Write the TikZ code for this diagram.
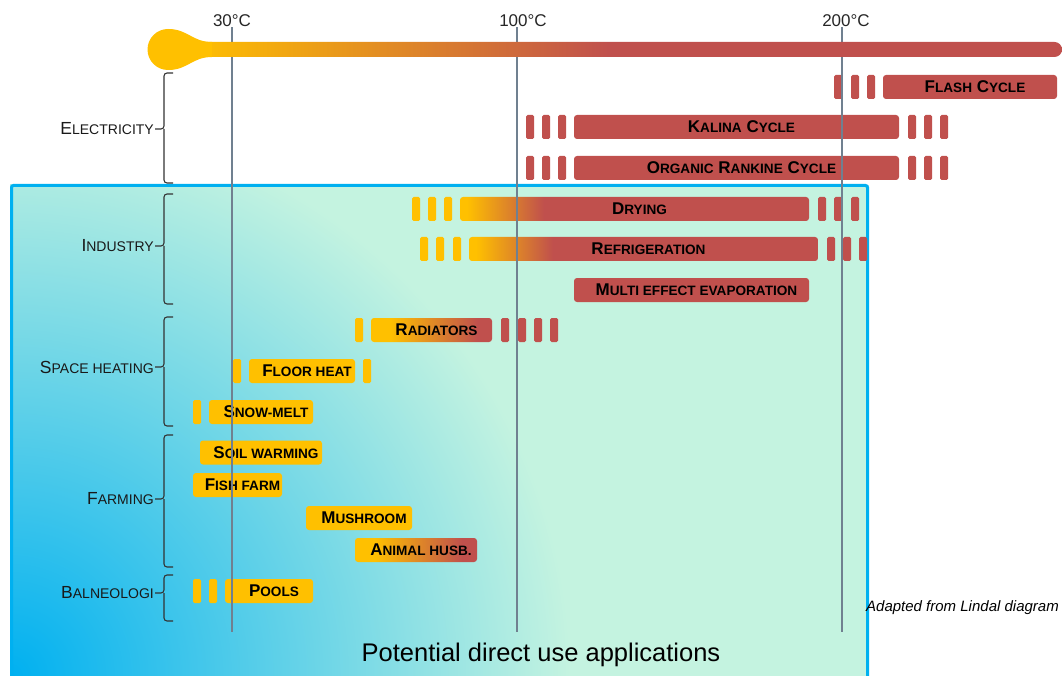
\documentclass[tikz,border=0pt]{standalone}
\usepackage{fontspec}
\setmainfont{Liberation Sans}
\usepackage{xcolor}
\usepackage{tikz}
\definecolor{barred}{HTML}{C0504D}
\definecolor{baryel}{HTML}{FFC000}
\definecolor{boxblue}{HTML}{00B0F0}
\definecolor{boxmint}{HTML}{C4F3E0}
\definecolor{linegray}{HTML}{708090}
\pgfdeclarehorizontalshading{heatup}{100bp}{color(0bp)=(baryel); color(26bp)=(baryel); color(37bp)=(barred); color(100bp)=(barred)}
\pgfdeclarehorizontalshading{slowheat}{100bp}{color(0bp)=(baryel); color(33bp)=(baryel); color(69bp)=(barred); color(100bp)=(barred)}
\pgfdeclarehorizontalshading{thermo}{100bp}{color(0bp)=(baryel); color(25bp)=(baryel); color(49bp)=(barred); color(100bp)=(barred)}
\makeatletter
% smaller capitals for the fake small caps
\newcommand{\lowc}[1]{{\@tempdima=\f@size pt\@tempdima=0.8\@tempdima\fontsize{\@tempdima}{\@tempdima}\selectfont #1}}
\makeatother
\tikzset{
    appbar/.style = {rounded corners=3pt, minimum height=24pt, inner sep=0pt,
        text=black, font=\bfseries\fontsize{17}{17}\selectfont,
        execute at begin node=\hspace*{10pt}},
    hot/.style = {appbar, fill=barred},
    warm/.style = {appbar, fill=baryel},
    heating/.style = {appbar, shading=heatup},
    slowheating/.style = {appbar, shading=slowheat},
    stub/.style = {rounded corners=1.5pt, fill=#1},
    group/.style = {anchor=east, inner sep=1pt, text=black!90,
        font=\fontsize{17.5}{17.5}\selectfont},
    grpbrace/.style = {draw=black!80, line width=1.1pt, rounded corners=3pt},
    temp/.style = {inner sep=0pt, text=black!85, font=\fontsize{17}{17}\selectfont},
    templine/.style = {draw=linegray, line width=1.2pt},
}

\begin{document}
\begin{tikzpicture}[x=1pt,y=-1pt]
    \useasboundingbox (0,0) rectangle (1062,676);
    % direct use box
    \begin{scope}
        \clip (10,185) rectangle (869,676);
        \fill[boxmint] (10,185) rectangle (869,676);
        \shade[inner color=boxblue, outer color=boxmint] (10,676) circle (560);
    \end{scope}
    \draw[boxblue, line width=3pt, rounded corners=2pt] (11.5,676) -- (11.5,185.5) -- (867.5,185.5) -- (867.5,676);

    % electricity
    \node (flash) [hot, minimum width=174] at (970,87) {F\lowc{LASH} C\lowc{YCLE}};
    \foreach \x in {834,851,867} \fill[stub=barred] (\x,75) rectangle +(8,24);
    \node (kalina) [hot, minimum width=325] at (736.5,127) {K\lowc{ALINA} C\lowc{YCLE}};
    \node (orc) [hot, minimum width=325] at (736.5,168) {O\lowc{RGANIC} R\lowc{ANKINE} C\lowc{YCLE}};
    \foreach \y in {115,156} {
        \foreach \x in {526,542,558,908,924,940} \fill[stub=barred] (\x,\y) rectangle +(8,24);
    }
    % industry
    \node (drying) [heating, minimum width=349] at (634.5,209) {D\lowc{RYING}};
    \foreach \x in {412,428,444} \fill[stub=baryel] (\x,197) rectangle +(8,24);
    \foreach \x in {818,834,851} \fill[stub=barred] (\x,197) rectangle +(8,24);
    \node (refrig) [heating, minimum width=349] at (643.5,249) {R\lowc{EFRIGERATION}};
    \foreach \x in {420,436,453} \fill[stub=baryel] (\x,237) rectangle +(8,24);
    \foreach \x in {827,843,859} \fill[stub=barred] (\x,237) rectangle +(8,24);
    \node (evap) [hot, minimum width=235] at (691.5,290) {M\lowc{ULTI EFFECT EVAPORATION}};
    % space heating
    \node (radiators) [slowheating, minimum width=121] at (431.5,330) {R\lowc{ADIATORS}};
    \fill[stub=baryel] (355,318) rectangle +(8,24);
    \foreach \x in {501,518,534,550} \fill[stub=barred] (\x,318) rectangle +(8,24);
    \node (floor) [warm, minimum width=106] at (302,371) {F\lowc{LOOR HEAT}};
    \foreach \x in {233,363} \fill[stub=baryel] (\x,359) rectangle +(8,24);
    \node (snow) [warm, minimum width=104] at (261,412) {S\lowc{NOW-MELT}};
    \fill[stub=baryel] (193,400) rectangle +(8,24);
    % farming
    \node (soil) [warm, minimum width=122] at (261,452.5) {S\lowc{OIL WARMING}};
    \node (fish) [warm, minimum width=89] at (237.5,485) {F\lowc{ISH FARM}};
    \node (mushroom) [warm, minimum width=106] at (359,518) {M\lowc{USHROOM}};
    \node (animal) [slowheating, minimum width=122] at (416,550) {A\lowc{NIMAL HUSB.}};
    % balneology
    \node (pools) [warm, minimum width=88] at (269,591) {P\lowc{OOLS}};
    \foreach \x in {193,209} \fill[stub=baryel] (\x,579) rectangle +(8,24);

    % temperature marks
    \node (t30) [temp] at (232,21) {30°C};
    \node (t100) [temp] at (523,21) {100°C};
    \node (t200) [temp] at (846,21) {200°C};
    \coordinate (b30) at (232,632);
    \coordinate (b100) at (517,632);
    \coordinate (b200) at (842,632);
    \foreach \t in {30,100,200}
        \draw[templine] (t\t.south -| b\t) -- (b\t);

    % thermometer
    \shade[shading=thermo, rounded corners=7.5pt] (190,42) rectangle (1062,57);
    \fill[baryel] (168,49.5) circle (20.5);
    \fill[baryel] (168,29) .. controls (188,29) and (192,42) .. (212,42) -- (212,57)
        .. controls (192,57) and (188,70) .. (168,70) -- cycle;

    % groups
    \foreach \t/\m/\b/\nm/\lab in {73/129/183/elec/{E\lowc{LECTRICITY}},
            194/246/304/indus/{I\lowc{NDUSTRY}},
            317/367/426/space/{S\lowc{PACE HEATING}},
            435/499/567/farm/{F\lowc{ARMING}},
            575/593/621/balneo/{B\lowc{ALNEOLOGI}}} {
        \node (\nm) [group] at (155,\m) {\lab};
        \draw[grpbrace] (173,\t) -- (164,\t) -- (164,\m) -- (\nm.east);
        \draw[grpbrace] (173,\b) -- (164,\b) -- (164,\m);
    }

    \node (title) [font=\fontsize{25.5}{25.5}\selectfont] at (541,655) {Potential direct use applications};
    \node (credit) [anchor=east, inner sep=0pt, font=\itshape\fontsize{15}{15}\selectfont] at (1059,608) {Adapted from Lindal diagram};
\end{tikzpicture}
\end{document}
